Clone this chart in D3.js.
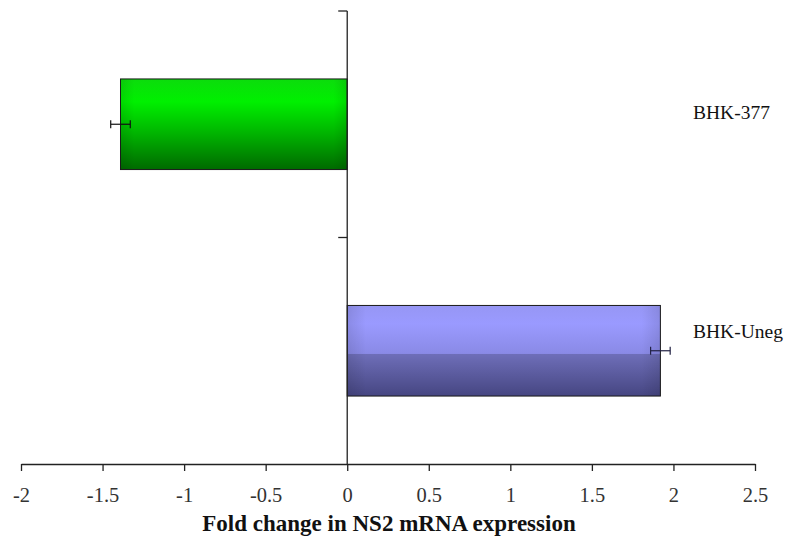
<!DOCTYPE html>
<html>
<head>
<meta charset="utf-8">
<script src="https://cdn.jsdelivr.net/npm/d3@7"></script>
<style>
  html, body { margin: 0; padding: 0; background: #fff; }
  svg { display: block; }
  svg text { font-family: "Liberation Serif", "Times New Roman", Times, serif; }
</style>
</head>
<body>
<svg id="chart" width="798" height="547"></svg>
<script>
const categories = ["BHK-377", "BHK-Uneg"];
const values = [-1.39, 1.92];
const errors = [0.06, 0.06];
const xTicks = [-2, -1.5, -1, -0.5, 0, 0.5, 1, 1.5, 2, 2.5];
const xTickLabels = ["-2", "-1.5", "-1", "-0.5", "0", "0.5", "1", "1.5", "2", "2.5"];
const xTitle = "Fold change in NS2 mRNA expression";

const svg = d3.select("#chart");
const serif = "Liberation Serif, Times New Roman, Times, serif";

const x = d3.scaleLinear().domain([-2, 2.5]).range([21, 755]);
const y = d3.scaleBand().domain(categories).range([11, 464])
  .paddingInner(0.6).paddingOuter(0.3);

const defs = svg.append("defs");
const g1 = defs.append("linearGradient").attr("id", "gGreen")
  .attr("x1", 0).attr("y1", 0).attr("x2", 0).attr("y2", 1);
[["0%", "#0cdc0c"], ["25%", "#00f000"], ["60%", "#00b400"], ["100%", "#006a00"]]
  .forEach(([o, c]) => g1.append("stop").attr("offset", o).attr("stop-color", c));
const g2 = defs.append("linearGradient").attr("id", "gPurple")
  .attr("x1", 0).attr("y1", 0).attr("x2", 0).attr("y2", 1);
[["0%", "#9696f4"], ["20%", "#9a9aff"], ["53%", "#8a8ae6"], ["54%", "#6e6eb8"], ["100%", "#464682"]]
  .forEach(([o, c]) => g2.append("stop").attr("offset", o).attr("stop-color", c));
const ge = defs.append("linearGradient").attr("id", "gEdge")
  .attr("x1", 0).attr("y1", 0).attr("x2", 1).attr("y2", 0);
[["0%", "rgba(0,0,0,0.10)"], ["6%", "rgba(0,0,0,0)"], ["94%", "rgba(0,0,0,0)"], ["100%", "rgba(0,0,0,0.10)"]]
  .forEach(([o, c]) => ge.append("stop").attr("offset", o).attr("stop-color", c));

const fills = ["url(#gGreen)", "url(#gPurple)"];

const bars = svg.append("g");
categories.forEach((c, i) => {
  const x0 = x(Math.min(0, values[i]));
  const w = Math.abs(x(values[i]) - x(0));
  bars.append("rect").attr("x", x0).attr("y", y(c)).attr("width", w).attr("height", y.bandwidth())
    .attr("fill", fills[i]);
  bars.append("rect").attr("x", x0).attr("y", y(c)).attr("width", w).attr("height", y.bandwidth())
    .attr("fill", "url(#gEdge)").attr("stroke", "#1a1a1a").attr("stroke-width", 1);
  const cy = y(c) + y.bandwidth() / 2;
  const ex1 = x(values[i] - errors[i]), ex2 = x(values[i] + errors[i]);
  const eg = svg.append("g").attr("stroke", i === 0 ? "#111" : "#222244").attr("stroke-width", 1.2);
  eg.append("line").attr("x1", ex1).attr("x2", ex2).attr("y1", cy).attr("y2", cy);
  eg.append("line").attr("x1", ex1).attr("x2", ex1).attr("y1", cy - 4).attr("y2", cy + 4);
  eg.append("line").attr("x1", ex2).attr("x2", ex2).attr("y1", cy - 4).attr("y2", cy + 4);
});

const xAxis = d3.axisBottom(x).tickValues(xTicks)
  .tickFormat((d, i) => xTickLabels[i]).tickSize(7).tickSizeOuter(0).tickPadding(15);
const ax = svg.append("g").attr("transform", "translate(0,464)").call(xAxis)
  .attr("font-family", serif);
ax.select(".domain").attr("stroke", "#222").attr("stroke-width", 1.3);
ax.selectAll(".tick line").attr("stroke", "#222").attr("stroke-width", 1.3);
ax.selectAll(".tick text").style("font-family", serif).attr("font-size", 22)
  .attr("fill", "#333").attr("transform", "scale(0.93,1)");

const vx = x(0);
const va = svg.append("g").attr("stroke", "#222").attr("stroke-width", 1.3);
va.append("line").attr("x1", vx).attr("x2", vx).attr("y1", y.range()[0]).attr("y2", y.range()[1]);
const boundaries = categories.map((c, i) => y.range()[0] + i * y.step());
boundaries.forEach(b => {
  va.append("line").attr("x1", vx - 9).attr("x2", vx).attr("y1", b).attr("y2", b);
});

const labelOffsets = [-12, -20];
categories.forEach((c, i) => {
  svg.append("text").attr("x", 693).attr("y", y(c) + y.bandwidth() / 2 + labelOffsets[i])
    .attr("dy", "0.35em").style("font-family", serif).attr("font-size", 19.5)
    .attr("fill", "#111").text(c);
});

svg.append("text").attr("x", 389).attr("y", 531).attr("text-anchor", "middle")
  .style("font-family", serif).attr("font-weight", "bold").attr("font-size", 23)
  .attr("fill", "#111").text(xTitle);
</script>
</body>
</html>
